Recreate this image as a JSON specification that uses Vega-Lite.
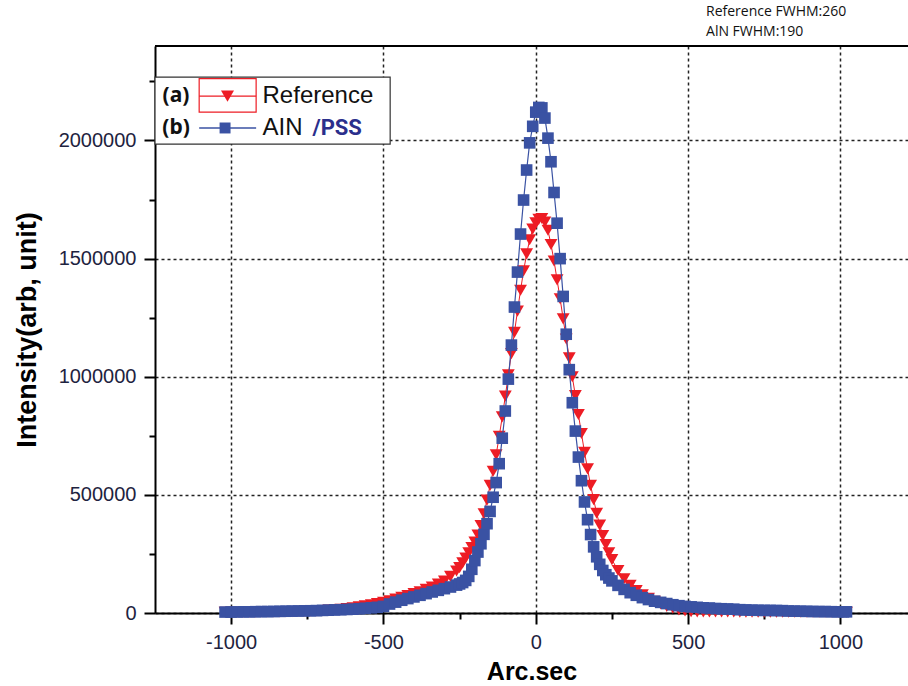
{
  "$schema": "https://vega.github.io/schema/vega-lite/v6.json",
  "autosize": "none",
  "width": 753,
  "height": 567,
  "padding": {"left": 155, "top": 46, "right": 0, "bottom": 73},
  "background": "white",
  "config": {"view": {"stroke": null}},
  "datasets": {
    "ref": [
      {"x": -1020, "y": 3000}, {"x": -1000, "y": 3000}, {"x": -980, "y": 3000}, {"x": -960, "y": 3000},
      {"x": -940, "y": 3500}, {"x": -920, "y": 3500}, {"x": -900, "y": 4000}, {"x": -880, "y": 4000},
      {"x": -860, "y": 4500}, {"x": -840, "y": 5000}, {"x": -820, "y": 5500}, {"x": -800, "y": 6000},
      {"x": -780, "y": 6500}, {"x": -760, "y": 7000}, {"x": -740, "y": 8000}, {"x": -720, "y": 9000},
      {"x": -700, "y": 10000}, {"x": -680, "y": 12000}, {"x": -660, "y": 14000}, {"x": -640, "y": 16000},
      {"x": -620, "y": 19000}, {"x": -600, "y": 22000}, {"x": -580, "y": 26000}, {"x": -560, "y": 30000},
      {"x": -540, "y": 35000}, {"x": -520, "y": 40000}, {"x": -500, "y": 45000}, {"x": -480, "y": 52000},
      {"x": -460, "y": 59000}, {"x": -440, "y": 66000}, {"x": -420, "y": 74000}, {"x": -400, "y": 82000},
      {"x": -380, "y": 90000}, {"x": -360, "y": 100000}, {"x": -340, "y": 110000}, {"x": -320, "y": 122000},
      {"x": -300, "y": 135000}, {"x": -280, "y": 155000}, {"x": -260, "y": 178000},
      {"x": -250, "y": 192000}, {"x": -240, "y": 212000}, {"x": -230, "y": 233000}, {"x": -220, "y": 255000},
      {"x": -210, "y": 277000}, {"x": -200, "y": 300000}, {"x": -190, "y": 330000}, {"x": -180, "y": 370000},
      {"x": -170, "y": 420000}, {"x": -160, "y": 478000}, {"x": -150, "y": 540000}, {"x": -140, "y": 600000},
      {"x": -130, "y": 670000}, {"x": -120, "y": 748000}, {"x": -110, "y": 830000}, {"x": -100, "y": 918000},
      {"x": -90, "y": 1008000}, {"x": -80, "y": 1098000}, {"x": -70, "y": 1188000}, {"x": -60, "y": 1278000},
      {"x": -50, "y": 1366000}, {"x": -40, "y": 1448000}, {"x": -30, "y": 1520000}, {"x": -20, "y": 1580000},
      {"x": -10, "y": 1625000}, {"x": 0, "y": 1652000}, {"x": 10, "y": 1666000}, {"x": 20, "y": 1670000},
      {"x": 30, "y": 1655000}, {"x": 40, "y": 1620000}, {"x": 50, "y": 1560000}, {"x": 60, "y": 1490000},
      {"x": 70, "y": 1410000}, {"x": 80, "y": 1330000}, {"x": 90, "y": 1245000}, {"x": 100, "y": 1160000},
      {"x": 110, "y": 1080000}, {"x": 120, "y": 1000000}, {"x": 130, "y": 920000}, {"x": 140, "y": 840000},
      {"x": 150, "y": 760000}, {"x": 160, "y": 680000}, {"x": 170, "y": 610000}, {"x": 180, "y": 540000},
      {"x": 190, "y": 480000}, {"x": 200, "y": 422000}, {"x": 210, "y": 372000}, {"x": 220, "y": 328000},
      {"x": 230, "y": 290000}, {"x": 240, "y": 255000}, {"x": 250, "y": 226000},
      {"x": 270, "y": 180000}, {"x": 290, "y": 145000}, {"x": 310, "y": 117000}, {"x": 330, "y": 95000},
      {"x": 350, "y": 77000}, {"x": 370, "y": 62000}, {"x": 390, "y": 49000}, {"x": 410, "y": 38000},
      {"x": 430, "y": 28000}, {"x": 450, "y": 20000}, {"x": 470, "y": 13000}, {"x": 490, "y": 9000},
      {"x": 510, "y": 6000}, {"x": 530, "y": 5000}, {"x": 550, "y": 4500}, {"x": 570, "y": 4000},
      {"x": 590, "y": 4000}, {"x": 610, "y": 4000}, {"x": 630, "y": 4000}, {"x": 650, "y": 4000},
      {"x": 670, "y": 3500}, {"x": 690, "y": 3500}, {"x": 710, "y": 3500}, {"x": 730, "y": 3500},
      {"x": 750, "y": 3500}, {"x": 770, "y": 3500}, {"x": 790, "y": 3000}, {"x": 810, "y": 3000},
      {"x": 830, "y": 3000}, {"x": 850, "y": 3000}, {"x": 870, "y": 3000}, {"x": 890, "y": 3000},
      {"x": 910, "y": 3000}, {"x": 930, "y": 3000}, {"x": 950, "y": 3000}, {"x": 970, "y": 3000},
      {"x": 990, "y": 3000}, {"x": 1010, "y": 3000}, {"x": 1020, "y": 3000}
    ],
    "aln": [
      {"x": -1020, "y": 4000}, {"x": -1000, "y": 4000}, {"x": -980, "y": 4500}, {"x": -960, "y": 5000},
      {"x": -940, "y": 5000}, {"x": -920, "y": 5500}, {"x": -900, "y": 6000}, {"x": -880, "y": 6000},
      {"x": -860, "y": 6500}, {"x": -840, "y": 7000}, {"x": -820, "y": 7500}, {"x": -800, "y": 8000},
      {"x": -780, "y": 8500}, {"x": -760, "y": 9000}, {"x": -740, "y": 9500}, {"x": -720, "y": 10000},
      {"x": -700, "y": 11000}, {"x": -680, "y": 12000}, {"x": -660, "y": 13000}, {"x": -640, "y": 14000},
      {"x": -620, "y": 15000}, {"x": -600, "y": 16000}, {"x": -580, "y": 18000}, {"x": -560, "y": 20000},
      {"x": -540, "y": 22000}, {"x": -520, "y": 24000}, {"x": -500, "y": 28000}, {"x": -480, "y": 38000},
      {"x": -460, "y": 46000}, {"x": -440, "y": 54000}, {"x": -420, "y": 61000}, {"x": -400, "y": 68000},
      {"x": -380, "y": 75000}, {"x": -360, "y": 82000}, {"x": -340, "y": 89000}, {"x": -320, "y": 96000},
      {"x": -300, "y": 103000}, {"x": -280, "y": 110000}, {"x": -260, "y": 118000},
      {"x": -250, "y": 123000}, {"x": -240, "y": 129000}, {"x": -230, "y": 138000}, {"x": -220, "y": 155000},
      {"x": -210, "y": 185000}, {"x": -200, "y": 222000}, {"x": -190, "y": 258000}, {"x": -180, "y": 293000},
      {"x": -170, "y": 333000}, {"x": -160, "y": 378000}, {"x": -150, "y": 430000}, {"x": -140, "y": 490000},
      {"x": -130, "y": 552000}, {"x": -120, "y": 632000}, {"x": -110, "y": 740000}, {"x": -100, "y": 855000},
      {"x": -90, "y": 990000}, {"x": -80, "y": 1134000}, {"x": -70, "y": 1295000}, {"x": -60, "y": 1443000},
      {"x": -50, "y": 1604000}, {"x": -40, "y": 1748000}, {"x": -30, "y": 1875000}, {"x": -20, "y": 1990000},
      {"x": -10, "y": 2060000}, {"x": 0, "y": 2120000}, {"x": 10, "y": 2140000}, {"x": 20, "y": 2138000},
      {"x": 30, "y": 2095000}, {"x": 40, "y": 2010000}, {"x": 50, "y": 1910000}, {"x": 60, "y": 1780000},
      {"x": 70, "y": 1650000}, {"x": 80, "y": 1500000}, {"x": 90, "y": 1340000}, {"x": 100, "y": 1180000},
      {"x": 110, "y": 1030000}, {"x": 120, "y": 890000}, {"x": 130, "y": 770000}, {"x": 140, "y": 660000},
      {"x": 150, "y": 560000}, {"x": 160, "y": 470000}, {"x": 170, "y": 395000}, {"x": 180, "y": 332000},
      {"x": 190, "y": 280000}, {"x": 200, "y": 238000}, {"x": 210, "y": 206000}, {"x": 220, "y": 180000},
      {"x": 230, "y": 162000}, {"x": 240, "y": 148000}, {"x": 250, "y": 136000},
      {"x": 270, "y": 117000}, {"x": 290, "y": 100000}, {"x": 310, "y": 86000}, {"x": 330, "y": 75000},
      {"x": 350, "y": 65000}, {"x": 370, "y": 57000}, {"x": 390, "y": 50000}, {"x": 410, "y": 45000},
      {"x": 430, "y": 40000}, {"x": 450, "y": 35000}, {"x": 470, "y": 31000}, {"x": 490, "y": 28000},
      {"x": 510, "y": 26000}, {"x": 530, "y": 24000}, {"x": 550, "y": 22000}, {"x": 570, "y": 21000},
      {"x": 590, "y": 19000}, {"x": 610, "y": 18000}, {"x": 630, "y": 17000}, {"x": 650, "y": 16000},
      {"x": 670, "y": 14000}, {"x": 690, "y": 13000}, {"x": 710, "y": 12000}, {"x": 730, "y": 11500},
      {"x": 750, "y": 11000}, {"x": 770, "y": 11000}, {"x": 790, "y": 10500}, {"x": 810, "y": 10000},
      {"x": 830, "y": 8500}, {"x": 850, "y": 8000}, {"x": 870, "y": 7500}, {"x": 890, "y": 7000},
      {"x": 910, "y": 6500}, {"x": 930, "y": 6000}, {"x": 950, "y": 6000}, {"x": 970, "y": 5500},
      {"x": 990, "y": 5000}, {"x": 1010, "y": 5000}, {"x": 1020, "y": 5000}
    ]
  },
  "layer": [
    {
      "data": {"name": "ref"},
      "mark": {"type": "line", "color": "#ED1C24", "strokeWidth": 1},
      "encoding": {
        "x": {"field": "x", "type": "quantitative", "scale": {"domain": [-1250, 1222], "nice": false, "zero": false},
          "axis": {
            "title": "Arc.sec", "values": [-1000, -750, -500, -250, 0, 250, 500, 750, 1000],
            "labelExpr": "datum.value % 500 === 0 ? '' + datum.value : ''",
            "tickSize": {"condition": {"test": "datum.value % 500 !== 0", "value": 6}, "value": 11},
            "tickColor": "black", "tickWidth": 2,
            "grid": true, "gridDash": [3, 3], "gridColor": "#222", "gridWidth": 1.5,
            "gridOpacity": {"condition": {"test": "datum.value % 500 !== 0", "value": 0}, "value": 1},
            "domainColor": "black", "domainWidth": 2,
            "labelFont": "Liberation Sans", "labelFontSize": 20, "labelColor": "#1e2340", "labelPadding": 8,
            "titleFont": "Liberation Sans", "titleFontSize": 25, "titleFontWeight": "bold", "titleColor": "black", "titlePadding": 7
          }},
        "y": {"field": "y", "type": "quantitative", "scale": {"domain": [0, 2400000], "nice": false},
          "axis": {
            "title": "Intensity(arb, unit)", "values": [0, 250000, 500000, 750000, 1000000, 1250000, 1500000, 1750000, 2000000, 2250000],
            "labelExpr": "datum.value % 500000 === 0 ? '' + datum.value : ''",
            "tickSize": {"condition": {"test": "datum.value % 500000 !== 0", "value": 6}, "value": 11},
            "tickColor": "black", "tickWidth": 2,
            "grid": true, "gridDash": [3, 3], "gridColor": "#222", "gridWidth": 1.5,
            "gridOpacity": {"condition": {"test": "datum.value % 500000 !== 0", "value": 0}, "value": 1},
            "domainColor": "black", "domainWidth": 2,
            "labelFont": "Liberation Sans", "labelFontSize": 20, "labelColor": "#1e2340", "labelPadding": 8,
            "titleFont": "Liberation Sans", "titleFontSize": 27, "titleFontWeight": "bold", "titleColor": "black", "titlePadding": 17
          }}
      }
    },
    {
      "data": {"name": "ref"},
      "mark": {"type": "point", "shape": "triangle-down", "filled": true, "color": "#ED1C24", "size": 165, "opacity": 1},
      "encoding": {
        "x": {"field": "x", "type": "quantitative", "scale": {"domain": [-1250, 1222], "nice": false, "zero": false}},
        "y": {"field": "y", "type": "quantitative", "scale": {"domain": [0, 2400000], "nice": false}}
      }
    },
    {
      "data": {"name": "aln"},
      "mark": {"type": "line", "color": "#3A52A3", "strokeWidth": 1.2},
      "encoding": {
        "x": {"field": "x", "type": "quantitative", "scale": {"domain": [-1250, 1222], "nice": false, "zero": false}},
        "y": {"field": "y", "type": "quantitative", "scale": {"domain": [0, 2400000], "nice": false}}
      }
    },
    {
      "data": {"name": "aln"},
      "mark": {"type": "point", "shape": "square", "filled": true, "color": "#3A52A3", "size": 135, "opacity": 1},
      "encoding": {
        "x": {"field": "x", "type": "quantitative", "scale": {"domain": [-1250, 1222], "nice": false, "zero": false}},
        "y": {"field": "y", "type": "quantitative", "scale": {"domain": [0, 2400000], "nice": false}}
      }
    },
    {
      "data": {"values": [{}]},
      "mark": {"type": "rect", "fill": "white", "stroke": "#333", "strokeWidth": 1.2},
      "encoding": {
        "x": {"datum": -1250, "type": "quantitative", "scale": {"domain": [-1250, 1222], "nice": false, "zero": false}},
        "x2": {"datum": -478},
        "y": {"datum": 1985000, "type": "quantitative", "scale": {"domain": [0, 2400000], "nice": false}},
        "y2": {"datum": 2268000}
      }
    },
    {
      "data": {"values": [{}]},
      "mark": {"type": "rect", "fill": null, "stroke": "#ED1C24", "strokeWidth": 1.2},
      "encoding": {
        "x": {"datum": -1105, "type": "quantitative", "scale": {"domain": [-1250, 1222], "nice": false, "zero": false}},
        "x2": {"datum": -918},
        "y": {"datum": 2120000, "type": "quantitative", "scale": {"domain": [0, 2400000], "nice": false}},
        "y2": {"datum": 2262000}
      }
    },
    {
      "data": {"values": [{}]},
      "mark": {"type": "rule", "color": "#ED1C24", "strokeWidth": 1.2},
      "encoding": {
        "x": {"datum": -1105, "type": "quantitative", "scale": {"domain": [-1250, 1222], "nice": false, "zero": false}},
        "x2": {"datum": -918},
        "y": {"datum": 2188000, "type": "quantitative", "scale": {"domain": [0, 2400000], "nice": false}}
      }
    },
    {
      "data": {"values": [{}]},
      "mark": {"type": "point", "shape": "triangle-down", "filled": true, "color": "#ED1C24", "size": 170, "opacity": 1},
      "encoding": {
        "x": {"datum": -1012, "type": "quantitative", "scale": {"domain": [-1250, 1222], "nice": false, "zero": false}},
        "y": {"datum": 2188000, "type": "quantitative", "scale": {"domain": [0, 2400000], "nice": false}}
      }
    },
    {
      "data": {"values": [{}]},
      "mark": {"type": "rule", "color": "#3A52A3", "strokeWidth": 1.5},
      "encoding": {
        "x": {"datum": -1105, "type": "quantitative", "scale": {"domain": [-1250, 1222], "nice": false, "zero": false}},
        "x2": {"datum": -918},
        "y": {"datum": 2053000, "type": "quantitative", "scale": {"domain": [0, 2400000], "nice": false}}
      }
    },
    {
      "data": {"values": [{}]},
      "mark": {"type": "point", "shape": "square", "filled": true, "color": "#3A52A3", "size": 120, "opacity": 1},
      "encoding": {
        "x": {"datum": -1020, "type": "quantitative", "scale": {"domain": [-1250, 1222], "nice": false, "zero": false}},
        "y": {"datum": 2053000, "type": "quantitative", "scale": {"domain": [0, 2400000], "nice": false}}
      }
    },
    {
      "data": {"values": [{"t": "(a)", "x": -1181, "y": 2188000}, {"t": "(b)", "x": -1181, "y": 2053000}]},
      "mark": {"type": "text", "font": "Noto Sans", "fontWeight": "bold", "fontSize": 21, "color": "#111", "align": "center", "baseline": "middle"},
      "encoding": {
        "x": {"field": "x", "type": "quantitative", "scale": {"domain": [-1250, 1222], "nice": false, "zero": false}},
        "y": {"field": "y", "type": "quantitative", "scale": {"domain": [0, 2400000], "nice": false}},
        "text": {"field": "t"}
      }
    },
    {
      "data": {"values": [{"t": "Reference", "x": -897, "y": 2188000}, {"t": "AIN", "x": -897, "y": 2053000}]},
      "mark": {"type": "text", "font": "Liberation Sans", "fontSize": 24, "color": "#111", "align": "left", "baseline": "middle"},
      "encoding": {
        "x": {"field": "x", "type": "quantitative", "scale": {"domain": [-1250, 1222], "nice": false, "zero": false}},
        "y": {"field": "y", "type": "quantitative", "scale": {"domain": [0, 2400000], "nice": false}},
        "text": {"field": "t"}
      }
    },
    {
      "data": {"values": [{"t": "/PSS", "x": -733, "y": 2053000}]},
      "mark": {"type": "text", "font": "Roboto", "fontWeight": "bold", "fontSize": 22, "color": "#2B2F8C", "align": "left", "baseline": "middle"},
      "encoding": {
        "x": {"field": "x", "type": "quantitative", "scale": {"domain": [-1250, 1222], "nice": false, "zero": false}},
        "y": {"field": "y", "type": "quantitative", "scale": {"domain": [0, 2400000], "nice": false}},
        "text": {"field": "t"}
      }
    },
    {
      "data": {"values": [{}]},
      "mark": {"type": "rule", "color": "black", "strokeWidth": 2},
      "encoding": {
        "x": {"datum": -1250, "type": "quantitative", "scale": {"domain": [-1250, 1222], "nice": false, "zero": false}},
        "x2": {"datum": 1222},
        "y": {"datum": 2400000, "type": "quantitative", "scale": {"domain": [0, 2400000], "nice": false}}
      }
    },
    {
      "data": {"values": [{"t": "Reference FWHM:260", "x": 559, "y": 2543000}, {"t": "AlN FWHM:190", "x": 559, "y": 2460000}]},
      "mark": {"type": "text", "font": "Open Sans", "fontSize": 14, "color": "#111", "align": "left", "baseline": "middle"},
      "encoding": {
        "x": {"field": "x", "type": "quantitative", "scale": {"domain": [-1250, 1222], "nice": false, "zero": false}},
        "y": {"field": "y", "type": "quantitative", "scale": {"domain": [0, 2400000], "nice": false}},
        "text": {"field": "t"}
      }
    }
  ]
}
